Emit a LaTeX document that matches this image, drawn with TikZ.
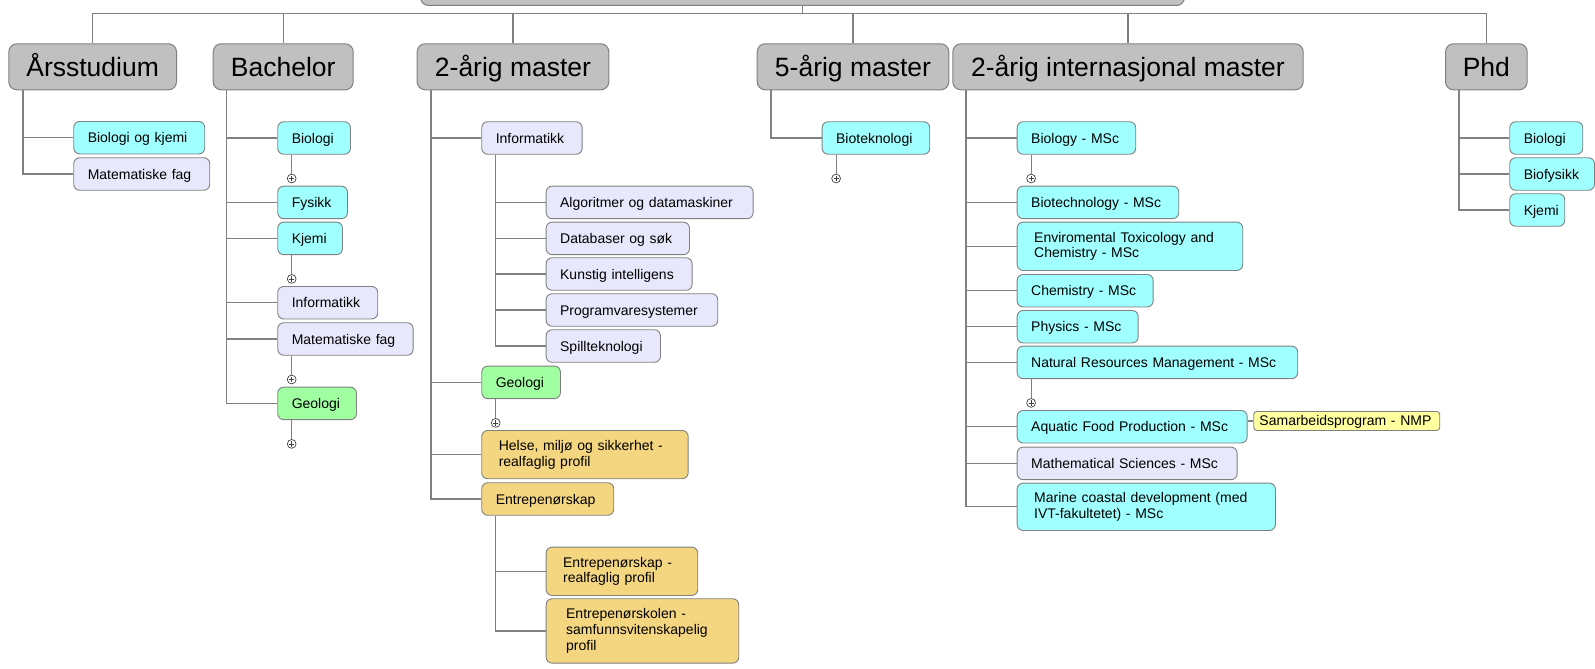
\documentclass[tikz,border=0pt]{standalone}
\usepackage{fontspec}
\setmainfont{Liberation Sans}
\usepackage{tikz}
\usetikzlibrary{positioning}

\definecolor{hdrgray}{RGB}{192,192,192}
\definecolor{boxline}{RGB}{128,128,128}
\definecolor{linkgray}{RGB}{128,128,128}
\definecolor{cyanfill}{RGB}{160,255,255}
\definecolor{lavfill}{RGB}{232,232,252}
\definecolor{greenfill}{RGB}{160,255,160}
\definecolor{tanfill}{RGB}{245,214,128}
\definecolor{notefill}{RGB}{255,255,160}

\begin{document}
\begin{tikzpicture}[x=1pt, y=-1pt,
    head/.style={anchor=north west, draw=boxline, fill=hdrgray, line width=1pt,
                 rounded corners=8pt, minimum height=46, inner sep=0pt,
                 font=\fontsize{26.5}{30}\selectfont, text height=19, text depth=0},
    leafbase/.style={anchor=north west, draw=boxline, line width=0.9pt, rounded corners=6pt,
                     align=left, inner ysep=0pt, font=\fontsize{14}{15.7}\selectfont},
    leaf/.style={leafbase, inner xsep=14, minimum height=32.5, text height=10, text depth=0},
    leaftwo/.style={leafbase, inner xsep=17},
    link/.style={draw=linkgray, line width=1.1pt},
    plus/.style={circle, draw=black!75, fill=white, inner sep=0pt, minimum size=8.8, line width=0.7pt,
                 path picture={\draw[line width=0.7pt] (path picture bounding box.center)
                     +(-2.6,0) -- +(2.6,0) +(0,-2.6) -- +(0,2.6);}}
]
    \useasboundingbox (0,0) rectangle (1595,669);
    \clip (0,0) rectangle (1595,669);

    % Root and programme headers
    \node[head, anchor=south west, minimum width=764, minimum height=50] (root) at (420,6) {};
    \node[head, minimum width=167.7] (aar) at (8.3,43.3) {Årsstudium};
    \node[head, minimum width=140] (bach) at (212.7,43.3) {Bachelor};
    \node[head, minimum width=191.6] (mast2) at (416.7,43.3) {2-årig master};
    \node[head, minimum width=191.6] (mast5) at (756.7,43.3) {5-årig master};
    \node[head, minimum width=350.4] (intl) at (952.3,43.3) {2-årig internasjonal master};
    \node[head, minimum width=81.7] (phd) at (1445,43.3) {Phd};

    % Bus under the root
    \coordinate (bus) at (0,13.3);
    \draw[link] (aar.north |- bus) -- (phd.north |- bus);
    \draw[link] (root.south) -- (root.south |- bus);
    \foreach \h in {aar, bach, mast2, mast5, intl, phd}
        \draw[link] (\h.north) -- (\h.north |- bus);

    % Aarsstudium
    \node[leaf, fill=cyanfill, text width=103] (arBK) at (73.3,121) {Biologi og kjemi};
    \node[leaf, fill=lavfill, text width=108] (arMat) at (73.3,157.3) {Matematiske fag};
    \coordinate (arT) at ([xshift=14.7]aar.south west);
    \draw[link] (arT) |- (arMat.west);
    \draw[link] (arT |- arBK.west) -- (arBK.west);

    % Bachelor
    \node[leaf, fill=cyanfill, text width=44.7] (baBio) at (277.3,121.3) {Biologi};
    \node[leaf, fill=cyanfill, text width=41.7] (baFys) at (277.3,185.7) {Fysikk};
    \node[leaf, fill=cyanfill, text width=36.7] (baKje) at (277.3,221.7) {Kjemi};
    \node[leaf, fill=lavfill, text width=72] (baInf) at (277.3,286) {Informatikk};
    \node[leaf, fill=lavfill, text width=107.4] (baMat) at (277.3,322.3) {Matematiske fag};
    \node[leaf, fill=greenfill, text width=50.7] (baGeo) at (277.3,386.7) {Geologi};
    \coordinate (baT) at ([xshift=14]bach.south west);
    \draw[link] (baT) |- (baGeo.west);
    \foreach \c in {baBio, baFys, baKje, baInf, baMat}
        \draw[link] (baT |- \c.west) -- (\c.west);

    % 2-aarig master
    \node[leaf, fill=lavfill, text width=72.4] (maInf) at (481.3,121.3) {Informatikk};
    \node[leaf, fill=lavfill, text width=179] (itAlg) at (545.7,185.7) {Algoritmer og datamaskiner};
    \node[leaf, fill=lavfill, text width=115.3] (itDb) at (545.7,221.7) {Databaser og søk};
    \node[leaf, fill=lavfill, text width=118] (itKi) at (545.7,257.3) {Kunstig intelligens};
    \node[leaf, fill=lavfill, text width=143.6] (itPv) at (545.7,293.3) {Programvaresystemer};
    \node[leaf, fill=lavfill, text width=86.3] (itSp) at (545.7,329.3) {Spillteknologi};
    \node[leaf, fill=greenfill, text width=50.7] (maGeo) at (481.3,365.7) {Geologi};
    \node[leaftwo, fill=tanfill, text width=172.4, minimum height=48.3] (maHms) at (481.3,430)
        {Helse, miljø og sikkerhet -\\realfaglig profil};
    \node[leaf, fill=tanfill, text width=104] (maEnt) at (481.3,482.3) {Entrepenørskap};
    \node[leaftwo, fill=tanfill, text width=117.6, minimum height=48.3] (enReal) at (545.7,546.7)
        {Entrepenørskap -\\realfaglig profil};
    \node[leaftwo, fill=tanfill, inner xsep=20, text width=152.6, minimum height=64.4] (enSkol) at (545.7,598.3)
        {Entrepenørskolen -\\samfunnsvitenskapelig\\profil};
    \coordinate (maT) at ([xshift=14.3]mast2.south west);
    \draw[link] (maT) |- (maEnt.west);
    \foreach \c in {maInf, maGeo, maHms}
        \draw[link] (maT |- \c.west) -- (\c.west);
    \coordinate (itT) at ([xshift=14.4]maInf.south west);
    \draw[link] (itT) |- (itSp.west);
    \foreach \c in {itAlg, itDb, itKi, itPv}
        \draw[link] (itT |- \c.west) -- (\c.west);
    \coordinate (enT) at ([xshift=14.4]maEnt.south west);
    \draw[link] (enT) |- (enSkol.west);
    \draw[link] (enT |- enReal.west) -- (enReal.west);

    % 5-aarig master
    \node[leaf, fill=cyanfill, text width=79.6] (fiBio) at (821.7,121.3) {Bioteknologi};
    \draw[link] ([xshift=14.3]mast5.south west) |- (fiBio.west);

    % 2-aarig internasjonal master
    \node[leaf, fill=cyanfill, text width=90.6] (msBio) at (1016.7,121.3) {Biology - MSc};
    \node[leaf, fill=cyanfill, text width=133.6] (msBiot) at (1016.7,185.7) {Biotechnology - MSc};
    \node[leaftwo, fill=cyanfill, text width=191.6, minimum height=48.3] (msEnv) at (1016.7,221.7)
        {Enviromental Toxicology and\\Chemistry - MSc};
    \node[leaf, fill=cyanfill, text width=108] (msChe) at (1016.7,274) {Chemistry - MSc};
    \node[leaf, fill=cyanfill, text width=93] (msPhy) at (1016.7,310) {Physics - MSc};
    \node[leaf, fill=cyanfill, text width=252.6] (msNat) at (1016.7,345.7) {Natural Resources Management - MSc};
    \node[leaf, fill=cyanfill, text width=202] (msAqu) at (1016.7,410) {Aquatic Food Production - MSc};
    \node[leaf, fill=lavfill, text width=192] (msMat) at (1016.7,446.7) {Mathematical Sciences - MSc};
    \node[leaftwo, fill=cyanfill, text width=224.3, minimum height=47.3] (msMar) at (1016.7,482.7)
        {Marine coastal development (med\\IVT-fakultetet) - MSc};
    \node[leaf, fill=notefill, rounded corners=3pt, inner xsep=5.7, text width=174.6, minimum height=19]
        (msNote) at (1253.3,411) {Samarbeidsprogram - NMP};
    \coordinate (msT) at ([xshift=13.7]intl.south west);
    \draw[link] (msT) |- (msMar.west);
    \foreach \c in {msBio, msBiot, msEnv, msChe, msPhy, msNat, msAqu, msMat}
        \draw[link] (msT |- \c.west) -- (\c.west);
    \draw[link] (msNote.west) -- (msNote.west -| msAqu.east);

    % Phd
    \node[leaf, fill=cyanfill, text width=45] (phBio) at (1509.3,121.3) {Biologi};
    \node[leaf, fill=cyanfill, text width=56.7] (phFys) at (1509.3,157.3) {Biofysikk};
    \node[leaf, fill=cyanfill, text width=27] (phKje) at (1509.3,193.3) {Kjemi};
    \coordinate (phT) at ([xshift=14]phd.south west);
    \draw[link] (phT) |- (phKje.west);
    \foreach \c in {phBio, phFys}
        \draw[link] (phT |- \c.west) -- (\c.west);

    % Collapsed branches
    \foreach \b in {baBio, baKje, baMat, baGeo, maGeo, fiBio, msBio, msNat} {
        \node[plus] (\b P) at ([shift={(14.4,23.8)}]\b.south west) {};
        \draw[link, line width=0.8pt] (\b P) -- (\b P |- \b.south);
    }

\end{tikzpicture}
\end{document}
